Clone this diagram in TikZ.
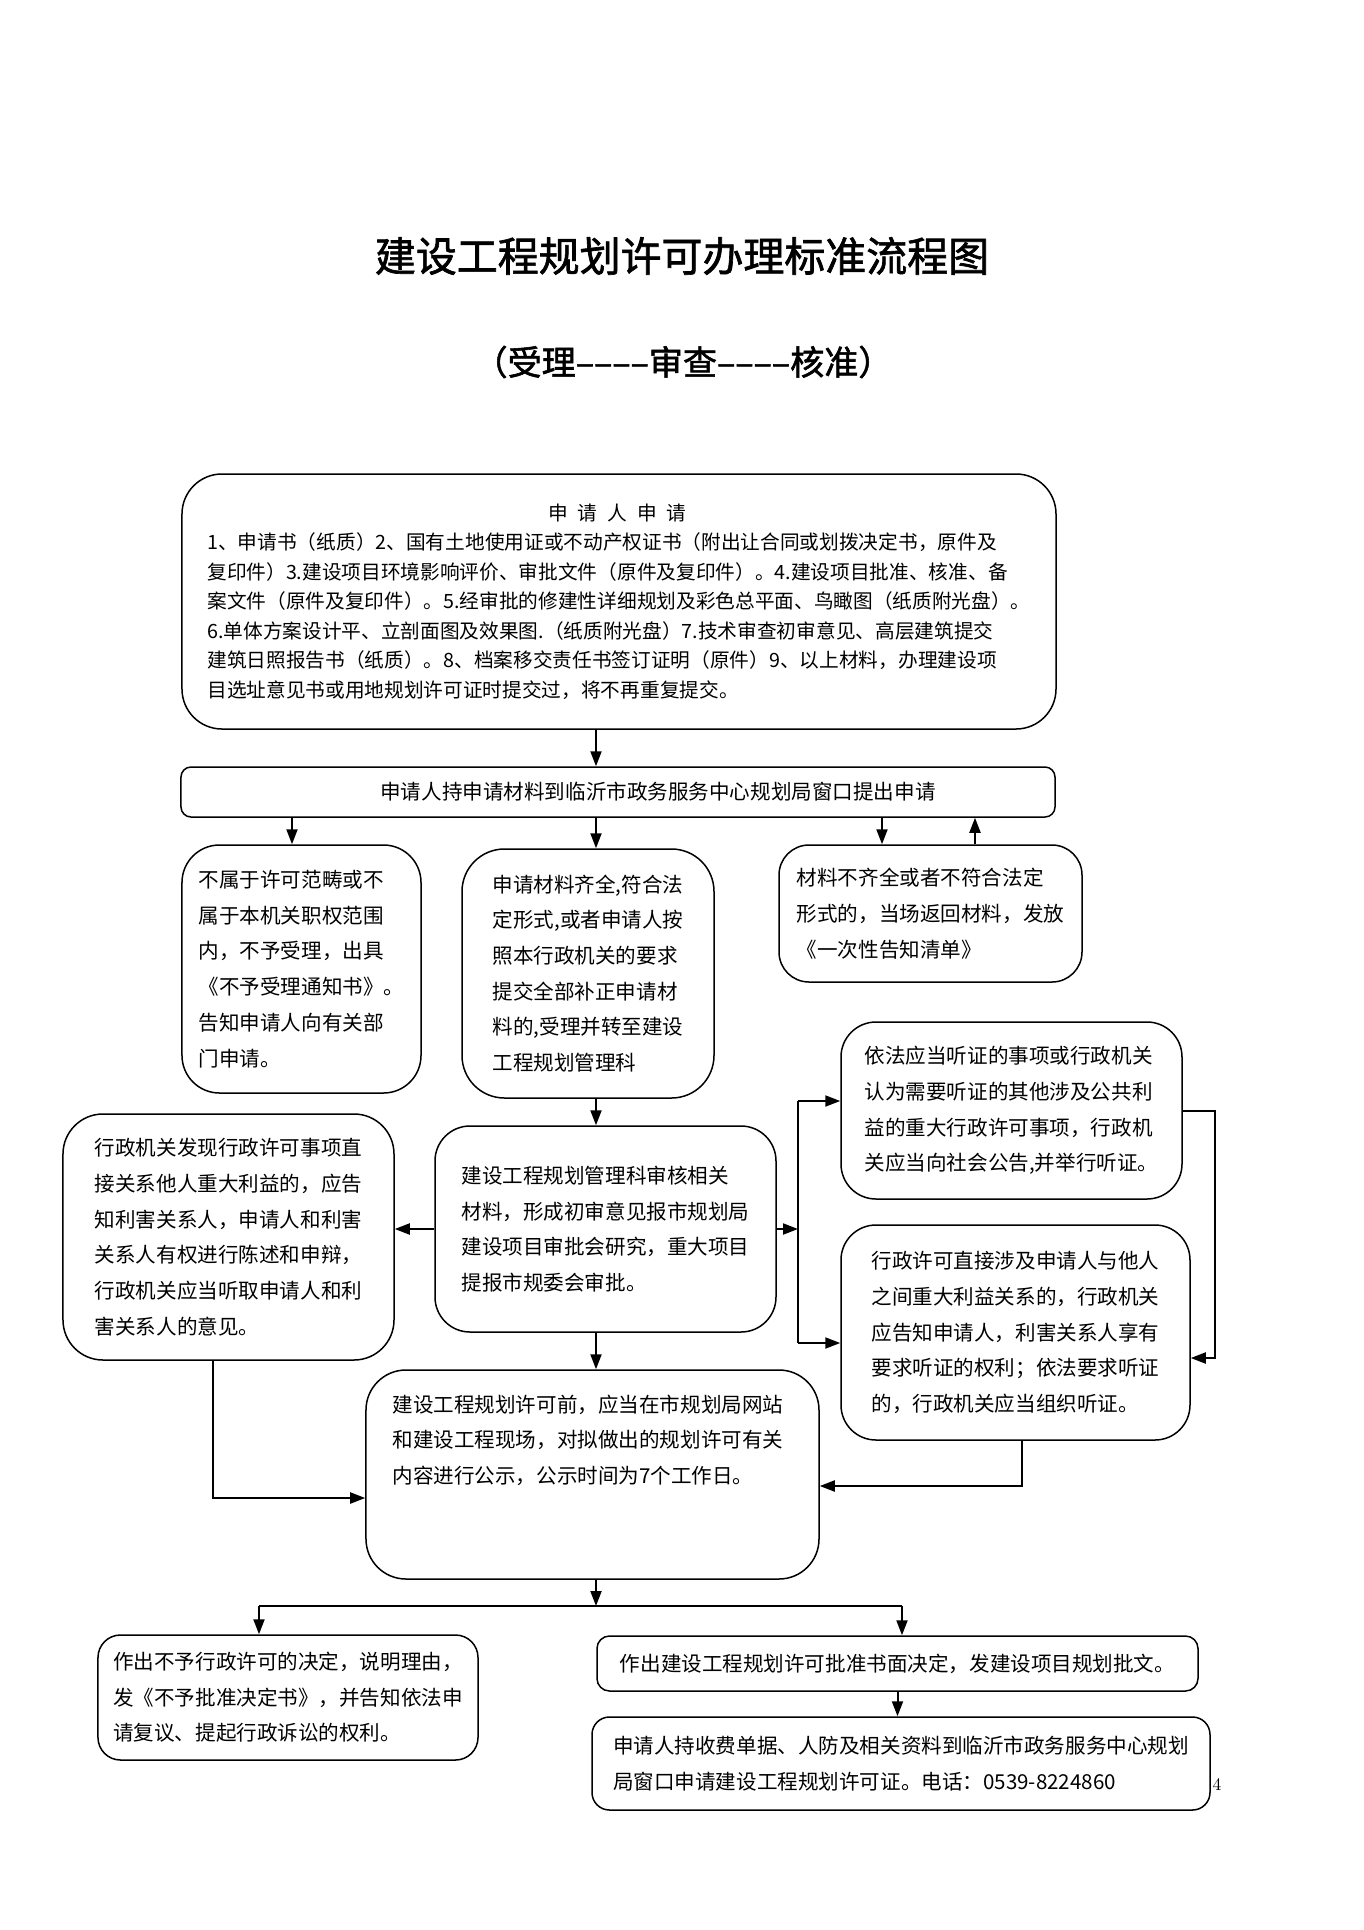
\documentclass[tikz,border=0pt]{standalone}
\usepackage{fontspec}
\newfontfamily\cjk{Noto Sans CJK SC}
\newfontfamily\cjkbold{Noto Sans CJK SC}[FakeBold=1.6]
\usetikzlibrary{arrows.meta}

\begin{document}
\begin{tikzpicture}[
    x=0.2mm, y=-0.2mm,
    every node/.style={font=\cjk\fontsize{11.7pt}{20.3pt}\selectfont},
    flowbox/.style={draw, line width=0.3mm, rounded corners=#1,
        align=left, inner sep=0pt},
    flowbox/.default=7mm,
    conn/.style={line width=0.4mm},
    arr/.style={conn, -{Triangle[length=3mm,width=2.2mm]}}]
    \path[fill=white] (0,0) rectangle (1364,1930);

    \node[font=\cjkbold\fontsize{23.3pt}{28pt}\selectfont] (title) at (682,256)
        {建设工程规划许可办理标准流程图};
    \node[font=\cjkbold\fontsize{19.4pt}{24pt}\selectfont] (subtitle) at (683,362)
        {（受理––––审查––––核准）};

    % 受理阶段
    \node[flowbox=8mm, minimum width=174.8mm, minimum height=51mm,
        font=\cjk\fontsize{11.2pt}{16.8pt}\selectfont] (apply) at (619,601.5) {%
        \makebox[164mm]{申\enspace 请\enspace 人\enspace 申\enspace 请}\\
        1、申请书（纸质）2、国有土地使用证或不动产权证书（附出让合同或划拨决定书，原件及\\
        复印件）3.建设项目环境影响评价、审批文件（原件及复印件）。4.建设项目批准、核准、备\\
        案文件（原件及复印件）。5.经审批的修建性详细规划及彩色总平面、鸟瞰图（纸质附光盘）。\\
        6.单体方案设计平、立剖面图及效果图.（纸质附光盘）7.技术审查初审意见、高层建筑提交\\
        建筑日照报告书（纸质）。8、档案移交责任书签订证明（原件）9、以上材料，办理建设项\\
        目选址意见书或用地规划许可证时提交过，将不再重复提交。};
    \node[flowbox=2mm, minimum width=174.8mm, minimum height=10mm] (window) at (618,792)
        {\hspace*{16mm}申请人持申请材料到临沂市政务服务中心规划局窗口提出申请};
    \node[flowbox=7.5mm, minimum width=47.8mm, minimum height=49.6mm] (reject) at (301.5,969) {%
        不属于许可范畴或不\\
        属于本机关职权范围\\
        内，不予受理，出具\\
        《不予受理通知书》。\\
        告知申请人向有关部\\
        门申请。};
    \node[flowbox=8.5mm, minimum width=50.4mm, minimum height=49.8mm] (accept) at (588,973.5) {%
        申请材料齐全,符合法\\
        定形式,或者申请人按\\
        照本行政机关的要求\\
        提交全部补正申请材\\
        料的,受理并转至建设\\
        工程规划管理科};
    \node[flowbox=6mm, minimum width=60.6mm, minimum height=27.4mm] (short) at (930.5,913.5) {%
        材料不齐全或者不符合法定\\
        形式的，当场返回材料，发放\\
        《一次性告知清单》};

    % 审查阶段
    \node[flowbox, minimum width=68.2mm, minimum height=35.4mm] (hearing) at (1011.5,1110.5) {%
        依法应当听证的事项或行政机关\\
        认为需要听证的其他涉及公共利\\
        益的重大行政许可事项，行政机\\
        关应当向社会公告,并举行听证。};
    \node[flowbox=8mm, minimum width=66.2mm, minimum height=49.2mm] (interest) at (228.5,1237) {%
        行政机关发现行政许可事项直\\
        接关系他人重大利益的，应告\\
        知利害关系人，申请人和利害\\
        关系人有权进行陈述和申辩，\\
        行政机关应当听取申请人和利\\
        害关系人的意见。};
    \node[flowbox, minimum width=68.2mm, minimum height=41.2mm] (review) at (605.5,1229) {%
        建设工程规划管理科审核相关\\
        材料，形成初审意见报市规划局\\
        建设项目审批会研究，重大项目\\
        提报市规委会审批。};
    \node[flowbox, minimum width=69.8mm, minimum height=43mm] (notify) at (1015.5,1332.5) {%
        行政许可直接涉及申请人与他人\\
        之间重大利益关系的，行政机关\\
        应告知申请人，利害关系人享有\\
        要求听证的权利；依法要求听证\\
        的，行政机关应当组织听证。};
    \node[flowbox=8mm, minimum width=90.6mm, minimum height=41.8mm] (publicity) at (592.5,1474.5) {};
    \node[anchor=north west, align=left, inner sep=0pt] (publicitytext)
        at ([xshift=5.4mm,yshift=-5mm]publicity.north west) {%
        建设工程规划许可前，应当在市规划局网站\\
        和建设工程现场，对拟做出的规划许可有关\\
        内容进行公示，公示时间为7个工作日。};

    % 核准阶段
    \node[flowbox=4.5mm, minimum width=76mm, minimum height=25mm] (deny) at (288,1697.5) {%
        作出不予行政许可的决定，说明理由，\\
        发《不予批准决定书》，并告知依法申\\
        请复议、提起行政诉讼的权利。};
    \node[flowbox=2.5mm, minimum width=120.2mm, minimum height=11mm] (approve) at (897.5,1663.5)
        {作出建设工程规划许可批准书面决定，发建设项目规划批文。};
    \node[flowbox=3.5mm, minimum width=123.6mm, minimum height=18.6mm] (license) at (901,1763.5) {%
        申请人持收费单据、人防及相关资料到临沂市政务服务中心规划\\
        局窗口申请建设工程规划许可证。电话：0539-8224860};
    \node[font=\rmfamily\fontsize{10pt}{12pt}\selectfont, inner sep=0pt] (pagenum) at (1217,1785) {4};

    \coordinate (spine) at (596,0);
    \coordinate (rejlane) at (292,0);
    \coordinate (downlane) at (882,0);
    \coordinate (uplane) at (975,0);
    \coordinate (bustop) at (798,1101);
    \coordinate (busbot) at (798,1343);
    \coordinate (rbus) at (1215,1358);
    \coordinate (lbus) at (213,1498);
    \coordinate (nbus) at (1022,1486);
    \coordinate (fork) at (596,1606);
    \coordinate (forkl) at (259,1606);
    \coordinate (forkr) at (902,1606);

    \draw[arr] (apply.south -| spine) -- (window.north -| spine);
    \draw[arr] (window.south -| rejlane) -- (reject.north -| rejlane);
    \draw[arr] (window.south -| spine) -- (accept.north -| spine);
    \draw[arr] (window.south -| downlane) -- (short.north -| downlane);
    \draw[arr] (short.north -| uplane) -- (window.south -| uplane);
    \draw[arr] (accept.south -| spine) -- (review.north -| spine);
    \draw[arr] (review.west) -- (interest.east |- review.west);
    \draw[arr] (review.east) -- (review.east -| bustop);
    \draw[conn] (bustop) -- (busbot);
    \draw[arr] (bustop) -- (hearing.west |- bustop);
    \draw[arr] (busbot) -- (notify.west |- busbot);
    \draw[arr] (hearing.east) -| (rbus) -- (notify.east |- rbus);
    \draw[arr] (review.south -| spine) -- (publicity.north -| spine);
    \draw[arr] (interest.south -| lbus) |- (publicity.west |- lbus);
    \draw[arr] (notify.south -| nbus) |- (publicity.east |- nbus);
    \draw[arr] (publicity.south -| fork) -- (fork);
    \draw[conn] (forkl) -- (forkr);
    \draw[arr] (forkl) -- (deny.north -| forkl);
    \draw[arr] (forkr) -- (approve.north -| forkr);
    \draw[arr] (approve.south) -- (license.north -| approve.south);
\end{tikzpicture}
\end{document}
